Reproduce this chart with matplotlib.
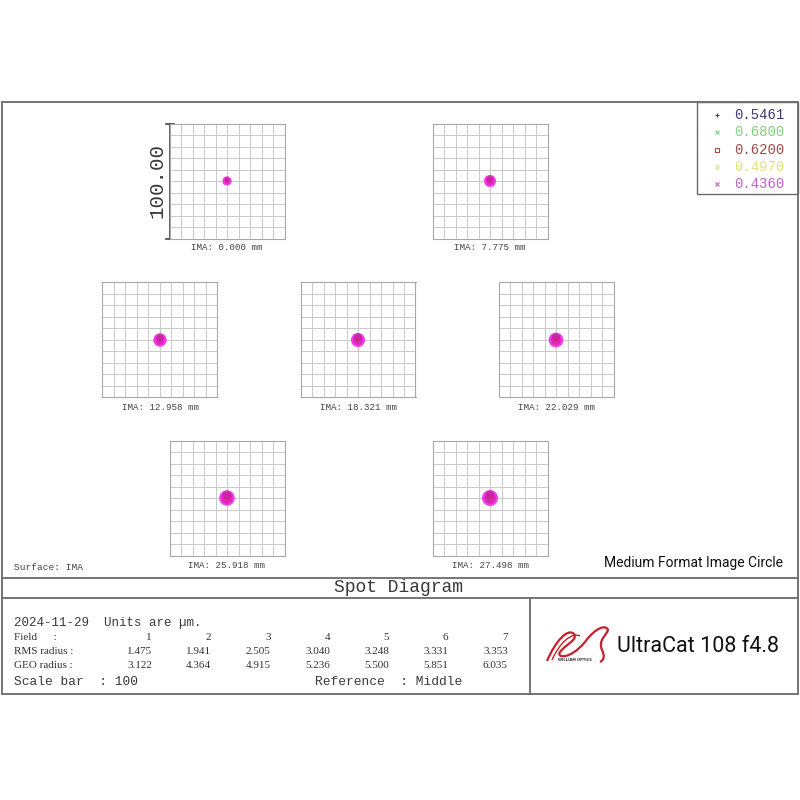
import matplotlib.pyplot as plt
from matplotlib.patches import Circle, Rectangle, PathPatch
from matplotlib.path import Path

# spot diagram data (units: micrometres)
fields = [1, 2, 3, 4, 5, 6, 7]
ima_mm = ['0.000', '7.775', '12.958', '18.321', '22.029', '25.918', '27.498']
rms_radius = [1.475, 1.941, 2.505, 3.040, 3.248, 3.331, 3.353]
geo_radius = [3.122, 4.364, 4.915, 5.236, 5.500, 5.851, 6.035]
wavelengths = ['0.5461', '0.6800', '0.6200', '0.4970', '0.4360']
wave_colors = ['#3a3a78', '#7fd37f', '#a04a4a', '#e2e27a', '#c060c8']
wave_markers = ['+', 'x', 's', 'x', 'x']
scale_bar = 100

W = H = 800
fig = plt.figure(figsize=(8, 8), dpi=100)
fig.patch.set_facecolor('white')

bg = fig.add_axes([0, 0, 1, 1])
bg.set_xlim(0, W)
bg.set_ylim(H, 0)
bg.axis('off')

mono = 'Liberation Mono'
frame_c = '#6a6a6a'
txt_c = '#3a3a3a'

# outer frame and title strip
bg.add_patch(Rectangle((2, 102), 796, 592, fill=False, ec=frame_c, lw=1.3))
bg.plot([2, 798], [578, 578], color=frame_c, lw=1.3)
bg.plot([2, 798], [598, 598], color=frame_c, lw=1.3)
bg.plot([530, 530], [598, 694], color=frame_c, lw=1.3)

# legend box
bg.add_patch(Rectangle((697, 102), 101, 92, fill=False, ec=frame_c, lw=1.0))
for i, (w, c, m) in enumerate(zip(wavelengths, wave_colors, wave_markers)):
    y = 115 + i * 17.3
    bg.plot([717], [y], marker=m, color=c, ms=3, mew=0.8, mfc='none')
    bg.text(734, y, w, color=c, fontsize=10, family=mono, va='center', ha='left')


def px_axes(cx, cy, size=115):
    x0 = cx - size / 2
    y1 = cy + size / 2
    return fig.add_axes([x0 / W, 1 - y1 / H, size / W, size / H])


centers = [(227, 181), (490, 181), (160, 340), (358, 340), (556, 340),
           (227, 498), (490, 498)]

for f, (cx, cy) in enumerate(centers):
    ax = px_axes(cx, cy)
    ax.set_xlim(-scale_bar / 2, scale_bar / 2)
    ax.set_ylim(-scale_bar / 2, scale_bar / 2)
    for g in range(-40, 50, 10):
        ax.axvline(g, color='#c9c9c9', lw=0.7)
        ax.axhline(g, color='#c9c9c9', lw=0.7)
    for s in ax.spines.values():
        s.set_color('#a8a8a8')
        s.set_linewidth(0.8)
    ax.set_xticks([])
    ax.set_yticks([])
    ax.add_patch(Circle((0, 0), geo_radius[f], fc='#e81ee0', ec='#f040e8',
                        lw=1.5, zorder=3))
    ax.add_patch(Circle((0, -geo_radius[f] * 0.15), rms_radius[f], color='#d8309a',
                        alpha=0.6, zorder=4))
    ax.add_patch(Circle((0, geo_radius[f] * 0.45), geo_radius[f] * 0.55,
                        color='#b0206a', alpha=0.35, zorder=4))
    bg.text(cx, cy + 67, f'IMA: {ima_mm[f]} mm', fontsize=6.6, family=mono,
            ha='center', va='center', color='#444444')

# scale bar on first field
bg.plot([170, 170], [124, 239], color='#444444', lw=1.2)
bg.plot([166, 174], [124, 124], color='#444444', lw=1.2)
bg.plot([166, 174], [239, 239], color='#444444', lw=1.2)
bg.text(157, 181, f'{scale_bar:.2f}', rotation=90, fontsize=15, family=mono,
        ha='center', va='center', color=txt_c)

bg.text(14, 567, 'Surface: IMA', fontsize=6.8, family=mono, va='center', color='#444444')
bg.text(783, 563, 'Medium Format Image Circle', fontsize=10, family='Roboto',
        ha='right', va='center', color='#111111')
bg.text(398, 588, 'Spot Diagram', fontsize=13, family=mono, ha='center', va='center',
        color=txt_c)

# info table
bg.text(14, 623, '2024-11-29  Units are \u00b5m.', fontsize=9, family=mono,
        va='center', color=txt_c)
rows = [('Field      :', [str(v) for v in fields], 638),
        ('RMS radius :', [f'{v:.3f}' for v in rms_radius], 652),
        ('GEO radius :', [f'{v:.3f}' for v in geo_radius], 666)]
for label, vals, y in rows:
    bg.text(14, y, label, fontsize=8, family='Liberation Serif', va='center',
            color='#333333')
    for k, v in enumerate(vals):
        bg.text(152 + k * 59.3, y, v, fontsize=8, family='Liberation Serif',
                ha='right', va='center', color='#333333')
bg.text(14, 682, f'Scale bar  : {scale_bar}', fontsize=9.3, family=mono, va='center',
        color=txt_c)
bg.text(315, 682, 'Reference  : Middle', fontsize=9.3, family=mono, va='center',
        color=txt_c)

# logo
logo_red = '#c8202a'
verts = [(547, 661), (556, 640), (568, 628), (574, 634),
         (578, 640), (566, 644), (560, 652),
         (556, 658), (570, 660), (585, 642),
         (595, 628), (606, 624), (608, 630),
         (606, 636), (598, 640), (602, 650),
         (605, 656), (604, 660), (600, 662)]
codes = [Path.MOVETO] + [Path.CURVE4] * 18
bg.add_patch(PathPatch(Path(verts, codes), fill=False, ec=logo_red, lw=1.6))
bg.add_patch(PathPatch(Path([(552, 660), (560, 642), (572, 632), (580, 636)],
                            [Path.MOVETO] + [Path.CURVE4] * 3),
                       fill=False, ec=logo_red, lw=1.0))
bg.text(575, 660, 'WILLIAM OPTICS', fontsize=2.6, ha='center', va='center',
        color='#333333', fontweight='bold')
bg.text(617, 646, 'UltraCat 108 f4.8', fontsize=15.5, family='Roboto', ha='left',
        va='center', color='#111111')

fig.savefig('out.png', dpi=100, facecolor='white')
